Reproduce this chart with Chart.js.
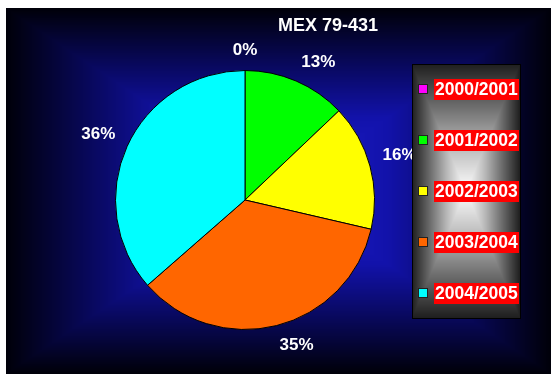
<!DOCTYPE html>
<html>
<head>
<meta charset="utf-8">
<script src="https://cdn.jsdelivr.net/npm/chart.js@4.4.1/dist/chart.umd.min.js"></script>
<style>
  html, body { margin: 0; padding: 0; background: #ffffff; }
  #chart { display: block; }
</style>
</head>
<body>
<canvas id="chart" width="551" height="374"></canvas>
<script>
// Chart data
const titleText = "MEX 79-431";
const seasons = ["2000/2001", "2001/2002", "2002/2003", "2003/2004", "2004/2005"];
const shares = [0, 12.9, 15.7, 34.9, 36.4];
const sliceColors = ["#ff00ff", "#00ff00", "#ffff00", "#ff6600", "#00ffff"];

const FONT = '"Liberation Sans", Arial, sans-serif';

// Excel-like "from center" rectangular gradient, built pixel by pixel
// stops: [pos, [r,g,b]] with pos 0 = edge, 1 = center
function rectGradient(ctx, x, y, w, h, stops) {
  const off = document.createElement("canvas");
  off.width = w;
  off.height = h;
  const octx = off.getContext("2d");
  const img = octx.createImageData(w, h);
  const hw = w / 2, hh = h / 2;
  for (let j = 0; j < h; j++) {
    for (let i = 0; i < w; i++) {
      const d = Math.max(Math.abs(i + 0.5 - hw) / hw, Math.abs(j + 0.5 - hh) / hh);
      const t = 1 - Math.min(d, 1);
      let k = 0;
      while (k < stops.length - 2 && t > stops[k + 1][0]) k++;
      const a = stops[k], b = stops[k + 1];
      const f = Math.min(Math.max((t - a[0]) / (b[0] - a[0]), 0), 1);
      const p = (j * w + i) * 4;
      img.data[p] = a[1][0] + (b[1][0] - a[1][0]) * f;
      img.data[p + 1] = a[1][1] + (b[1][1] - a[1][1]) * f;
      img.data[p + 2] = a[1][2] + (b[1][2] - a[1][2]) * f;
      img.data[p + 3] = 255;
    }
  }
  octx.putImageData(img, 0, 0);
  ctx.drawImage(off, x, y);
}

const backdrop = {
  id: "backdrop",
  beforeDraw(chart) {
    const ctx = chart.ctx;
    ctx.save();
    ctx.fillStyle = "#ffffff";
    ctx.fillRect(0, 0, chart.width, chart.height);
    rectGradient(ctx, 6, 8, chart.width - 6, chart.height - 8, [
      [0, [0, 0, 8]],
      [0.3, [8, 8, 90]],
      [0.6, [18, 18, 170]],
      [1, [30, 30, 210]],
    ]);
    ctx.restore();
  },
};

const percentLabels = {
  id: "percentLabels",
  afterDatasetsDraw(chart) {
    const ctx = chart.ctx;
    const meta = chart.getDatasetMeta(0);
    const total = shares.reduce((a, b) => a + b, 0);
    ctx.save();
    ctx.font = "bold 17px " + FONT;
    ctx.fillStyle = "#ffffff";
    ctx.textAlign = "center";
    ctx.textBaseline = "middle";
    meta.data.forEach((arc, i) => {
      const mid = (arc.startAngle + arc.endAngle) / 2;
      const ux = Math.cos(mid);
      const uy = Math.sin(mid);
      const r = arc.outerRadius + 13;
      const text = Math.round((shares[i] / total) * 100) + "%";
      const hw = ctx.measureText(text).width / 2;
      const sx = Math.abs(ux) < 0.1 ? 0 : Math.sign(ux);
      const sy = Math.abs(uy) < 0.1 ? 0 : Math.sign(uy);
      ctx.fillText(text, arc.x + ux * r + sx * hw, arc.y + uy * r + sy * 7);
    });
    ctx.restore();
  },
};

const titleAndLegend = {
  id: "titleAndLegend",
  afterDraw(chart) {
    const ctx = chart.ctx;
    ctx.save();

    // title
    ctx.font = "bold 18px " + FONT;
    ctx.fillStyle = "#ffffff";
    ctx.textAlign = "center";
    ctx.textBaseline = "middle";
    ctx.fillText(titleText, 328, 26);

    // legend box
    const bx = 412, by = 64, bw = 108, bh = 254;
    rectGradient(ctx, bx, by, bw, bh, [
      [0, [30, 30, 30]],
      [0.3, [100, 100, 100]],
      [0.65, [185, 185, 185]],
      [1, [255, 255, 255]],
    ]);
    ctx.strokeStyle = "#000000";
    ctx.lineWidth = 1;
    ctx.strokeRect(bx + 0.5, by + 0.5, bw, bh);

    const step = bh / seasons.length;
    ctx.font = "bold 17.5px " + FONT;
    ctx.textAlign = "left";
    seasons.forEach((label, i) => {
      const cy = Math.round(by + step / 2 + step * i);
      // marker
      ctx.fillStyle = sliceColors[i];
      ctx.fillRect(418, cy - 5, 10, 10);
      ctx.strokeStyle = "#222222";
      ctx.strokeRect(418.5, cy - 4.5, 9, 9);
      // red label background
      ctx.fillStyle = "#ff0000";
      ctx.fillRect(434, cy - 10, 85, 21);
      ctx.fillStyle = "#ffffff";
      ctx.fillText(label, 435, cy + 1);
    });
    ctx.restore();
  },
};

new Chart(document.getElementById("chart"), {
  type: "pie",
  data: {
    labels: seasons,
    datasets: [
      {
        data: shares,
        backgroundColor: sliceColors,
        borderColor: "#000000",
        borderWidth: 1,
      },
    ],
  },
  options: {
    responsive: false,
    animation: false,
    events: [],
    layout: { padding: { left: 115, right: 176, top: 70, bottom: 44 } },
    plugins: {
      legend: { display: false },
      title: { display: false },
      tooltip: { enabled: false },
    },
  },
  plugins: [backdrop, percentLabels, titleAndLegend],
});
</script>
</body>
</html>
